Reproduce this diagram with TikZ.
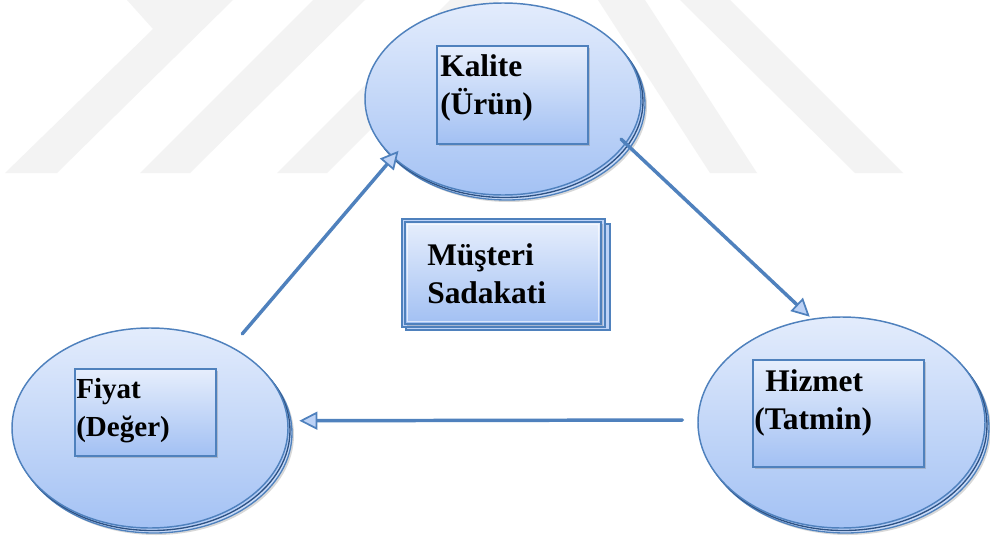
\documentclass[tikz,border=0pt]{standalone}
\usepackage{fontspec}
\setmainfont{Liberation Serif}
\usetikzlibrary{arrows.meta,shadows,shapes.geometric}
\definecolor{edgeblue}{HTML}{4F81BD}
\definecolor{darkedge}{HTML}{2E5283}
\definecolor{filltop}{HTML}{E3ECFC}
\definecolor{fillbot}{HTML}{A4C2F4}
\definecolor{boxtop}{HTML}{E6EEFC}
\definecolor{boxbot}{HTML}{A2C0F3}
\definecolor{tipfill}{HTML}{BCD2F6}
\definecolor{wmgray}{HTML}{F3F3F3}
\begin{document}
\begin{tikzpicture}[x=0.75pt,y=-0.75pt,
  oval/.style={ellipse, inner sep=0pt, draw=edgeblue, line width=1.1pt,
    top color=filltop, bottom color=fillbot},
  ovalmid/.style={ellipse, inner sep=0pt, draw=darkedge, line width=1pt, fill=fillbot!80},
  ovalback/.style={ellipse, inner sep=0pt, draw=edgeblue, line width=1pt, fill=fillbot!60,
    drop shadow={shadow xshift=1.5pt, shadow yshift=-1.5pt, opacity=.3}},
  ibox/.style={rectangle, inner sep=0pt, draw=edgeblue, line width=1pt,
    top color=boxtop, bottom color=boxbot,
    drop shadow={shadow xshift=1.5pt, shadow yshift=-1.5pt, opacity=.35}},
  sheet/.style={rectangle, inner sep=0pt, draw=edgeblue, line width=1pt, fill=boxbot!70},
  lbl/.style={inner sep=0pt, anchor=north west, align=left,
    font=\fontsize{23.6pt}{28.1pt}\selectfont\bfseries},
  conn/.style={draw=edgeblue, line width=2.6pt, line cap=round,
    -{Triangle[length=13.5pt, width=13.5pt, fill=tipfill, line width=1.3pt]}}]
\useasboundingbox (0,0) rectangle (990,543);
\fill[white] (0,0) rectangle (990,543);

% faint chevron bands in the background
\fill[wmgray] (5,173) -- (57,173) -- (233,0) -- (127,0) -- (153,29) -- cycle;
\fill[wmgray] (140,173) -- (190,173) -- (365,0) -- (313,0) -- cycle;
\fill[wmgray] (277,173) -- (327,173) -- (500,0) -- (450,0) -- cycle;
\fill[wmgray] (598,0) -- (645,0) -- (757,173) -- (710,173) -- cycle;
\fill[wmgray] (680,0) -- (730,0) -- (903,173) -- (855,173) -- cycle;

% stacked ovals
\node[ovalback, minimum width=207pt, minimum height=144pt] (kaliteback) at (507,104) {};
\node[ovalmid,  minimum width=207pt, minimum height=144pt] (kalitemid)  at (505,101.5) {};
\node[oval,     minimum width=207pt, minimum height=144pt] (kalite)     at (503,99) {};

\node[ovalback, minimum width=207pt, minimum height=150pt] (fiyatback) at (154,433) {};
\node[ovalmid,  minimum width=207pt, minimum height=150pt] (fiyatmid)  at (152,430.5) {};
\node[oval,     minimum width=207pt, minimum height=150pt] (fiyat)     at (150,428) {};

\node[ovalback, minimum width=215.25pt, minimum height=158.25pt] (hizmetback) at (845.5,427.5) {};
\node[ovalmid,  minimum width=215.25pt, minimum height=158.25pt] (hizmetmid)  at (843.5,425) {};
\node[oval,     minimum width=215.25pt, minimum height=158.25pt] (hizmet)     at (841.5,422.5) {};

% inner boxes
\node[ibox, minimum width=113.25pt, minimum height=73.5pt] (kalitebox) at (512.5,95) {};
\node[ibox, minimum width=105.75pt, minimum height=65.25pt] (fiyatbox) at (145.5,412.5) {};
\node[ibox, minimum width=128.25pt, minimum height=80.25pt] (hizmetbox) at (838.5,413.5) {};

% central stacked card
\node[sheet, minimum width=153pt, minimum height=79.5pt] (sheetback) at (508,277) {};
\node[sheet, minimum width=152.25pt, minimum height=81pt] (sheetmid) at (503.5,273) {};
\node[ibox, minimum width=147pt, minimum height=76.5pt, line width=1.3pt] (sadakat) at (503,273) {};
\draw[white, opacity=.6, line width=.8pt] ([shift={(3,3)}]sadakat.north west) rectangle ([shift={(-3,-3)}]sadakat.south east);

% labels
\node[lbl] (kalitetxt) at (440,54.7) {Kalite\\(Ürün)};
\node[lbl, font=\fontsize{21.8pt}{28.1pt}\selectfont\bfseries] (fiyattxt) at (76,378.4) {Fiyat\\(Değer)};
\node[lbl] (hizmettxt) at (754,369.7) {\hspace*{0.35em}Hizmet\\(Tatmin)};
\node[lbl] (sadakattxt) at (427,243.7) {Müşteri\\Sadakati};

% connectors
\draw[conn, shorten <=12.4pt, shorten >=-6.75pt] (fiyat.45.3) -- (kalite.208.9);
\draw[conn, shorten <=-5pt, shorten >=2pt] (kalite.340.4) -- (hizmet.106.6);
\draw[conn, shorten <=11.25pt, shorten >=8.25pt] (hizmet.179.2) -- (fiyat.3);
\end{tikzpicture}
\end{document}
